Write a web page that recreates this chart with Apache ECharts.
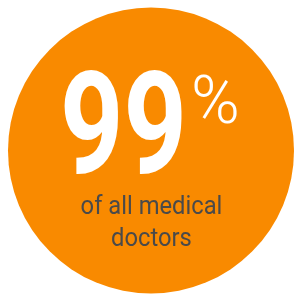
<!DOCTYPE html>
<html>
<head>
<meta charset="utf-8">
<script src="https://cdn.jsdelivr.net/npm/echarts@6/dist/echarts.min.js"></script>
<style>
    html, body { margin: 0; padding: 0; background: #ffffff; }
    #chart { width: 295px; height: 295px; }
</style>
</head>
<body>
<div id="chart"></div>
<script>
var shareValue = [99];
var unitLabel = ['%'];
var captionLines = ['of all medical', 'doctors'];

var myChart = echarts.init(document.getElementById('chart'));

var option = {
    animation: false,
    series: [
        {
            type: 'pie',
            center: [151, 150.5],
            radius: [0, 143],
            silent: true,
            label: { show: false },
            labelLine: { show: false },
            itemStyle: { color: '#f98a00', borderWidth: 0 },
            data: shareValue.map(function (v) { return { value: v, name: 'share' }; })
        }
    ],
    graphic: [
        {
            type: 'text',
            x: 60,
            y: 137,
            scaleX: 0.78,
            z: 10,
            style: {
                text: String(shareValue[0]),
                fill: '#ffffff',
                font: 'bold 142px Roboto',
                textAlign: 'left',
                align: 'left',
                textVerticalAlign: 'middle',
                verticalAlign: 'middle'
            }
        },
        {
            type: 'text',
            x: 191,
            y: 106,
            scaleX: 1.0,
            z: 10,
            style: {
                text: unitLabel[0],
                fill: '#ffffff',
                font: '300 66px Roboto',
                textAlign: 'left',
                align: 'left',
                textVerticalAlign: 'middle',
                verticalAlign: 'middle'
            }
        },
        {
            type: 'text',
            x: 151.5,
            y: 208,
            scaleX: 0.95,
            z: 10,
            style: {
                text: captionLines[0],
                fill: '#4a4a4a',
                font: '25px Roboto',
                textAlign: 'center',
                align: 'center',
                textVerticalAlign: 'middle',
                verticalAlign: 'middle'
            }
        },
        {
            type: 'text',
            x: 151.5,
            y: 240,
            scaleX: 0.95,
            z: 10,
            style: {
                text: captionLines[1],
                fill: '#4a4a4a',
                font: '25px Roboto',
                textAlign: 'center',
                align: 'center',
                textVerticalAlign: 'middle',
                verticalAlign: 'middle'
            }
        }
    ]
};

myChart.setOption(option);
</script>
</body>
</html>
